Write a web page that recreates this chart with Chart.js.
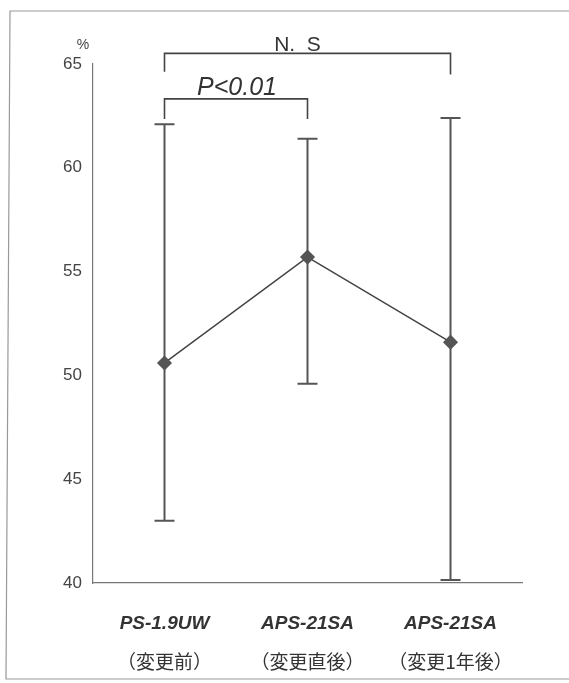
<!DOCTYPE html>
<html>
<head>
<meta charset="utf-8">
<script src="https://cdn.jsdelivr.net/npm/chart.js@4"></script>
<style>
  html, body { margin: 0; padding: 0; background: #fff; }
  #wrap { width: 569px; height: 683px; position: relative; }
</style>
</head>
<body>
<div id="wrap"><canvas id="chart"></canvas></div>
<script>
const models = ['PS-1.9UW', 'APS-21SA', 'APS-21SA'];
const periods = ['（変更前）', '（変更直後）', '（変更1年後）'];
const means = [50.6, 55.7, 51.6];
const upper = [62.1, 61.4, 62.4];
const lower = [43.0, 49.6, 40.15];
const yTicks = [40, 45, 50, 55, 60, 65];

// significance brackets: category indexes, bar level, leg ends (values on y scale)
const brackets = [
  { from: 0, to: 1, level: 63.32, ends: [62.35, 62.35], label: 'P<0.01', italic: true },
  { from: 0, to: 2, level: 65.51, ends: [64.63, 64.49], label: 'N.  S', italic: false }
];

const extras = {
  id: 'extras',
  beforeDraw(chart) {
    const ctx = chart.ctx;
    ctx.save();
    ctx.strokeStyle = '#999';
    ctx.lineWidth = 1.2;
    ctx.beginPath();
    ctx.moveTo(569, 11);
    ctx.lineTo(10, 11);
    ctx.lineTo(6, 679);
    ctx.lineTo(569, 679);
    ctx.stroke();
    ctx.restore();
  },
  afterDatasetsDraw(chart) {
    const ctx = chart.ctx;
    const x = chart.scales.x, y = chart.scales.y;
    ctx.save();
    // error bars
    ctx.strokeStyle = '#555';
    ctx.lineWidth = 2;
    means.forEach((m, i) => {
      const px = x.getPixelForValue(i);
      const top = y.getPixelForValue(upper[i]);
      const bot = y.getPixelForValue(lower[i]);
      ctx.beginPath();
      ctx.moveTo(px, top); ctx.lineTo(px, bot);
      ctx.moveTo(px - 10, top); ctx.lineTo(px + 10, top);
      ctx.moveTo(px - 10, bot); ctx.lineTo(px + 10, bot);
      ctx.stroke();
    });
    // brackets
    ctx.lineWidth = 1.6;
    ctx.strokeStyle = '#444';
    ctx.fillStyle = '#333';
    ctx.textAlign = 'center';
    ctx.textBaseline = 'bottom';
    brackets.forEach(b => {
      const x1 = x.getPixelForValue(b.from), x2 = x.getPixelForValue(b.to);
      const ly = y.getPixelForValue(b.level);
      ctx.beginPath();
      ctx.moveTo(x1, y.getPixelForValue(b.ends[0]));
      ctx.lineTo(x1, ly);
      ctx.lineTo(x2, ly);
      ctx.lineTo(x2, y.getPixelForValue(b.ends[1]));
      ctx.stroke();
      if (b.italic) {
        ctx.font = 'italic 25px "Liberation Sans", Arial, sans-serif';
        ctx.fillText(b.label, (x1 + x2) / 2 + 1, ly + 2);
      } else {
        ctx.font = '21px "Liberation Sans", Arial, sans-serif';
        ctx.fillText(b.label, (x1 + x2) / 2 - 10, ly + 2);
      }
    });
    // unit label
    ctx.font = '14px "Liberation Sans", Arial, sans-serif';
    ctx.fillStyle = '#444';
    ctx.textAlign = 'center';
    ctx.textBaseline = 'middle';
    ctx.fillText('%', chart.chartArea.left - 10, y.getPixelForValue(65.9));
    ctx.restore();
  }
};

new Chart(document.getElementById('chart'), {
  type: 'line',
  data: {
    labels: models,
    datasets: [{
      data: means,
      borderColor: '#444',
      borderWidth: 1.5,
      pointStyle: 'rectRot',
      pointRadius: 6.5,
      pointBackgroundColor: '#555',
      pointBorderColor: '#555',
      tension: 0,
      xAxisID: 'x'
    }]
  },
  options: {
    responsive: true,
    maintainAspectRatio: false,
    animation: false,
    layout: { padding: { left: 0, right: 47, top: 64, bottom: 0 } },
    plugins: { legend: { display: false }, tooltip: { enabled: false } },
    scales: {
      x: {
        type: 'category',
        labels: models,
        offset: true,
        grid: { display: false },
        border: { display: true, color: '#777', width: 1.2 },
        ticks: {
          padding: 21,
          color: '#333',
          font: { family: '"Liberation Sans", Arial, sans-serif', size: 19, weight: 'bold', style: 'italic' }
        },
        afterFit: s => { s.height = 55; }
      },
      x2: {
        type: 'category',
        position: 'bottom',
        labels: periods,
        offset: true,
        grid: { display: false },
        border: { display: false },
        ticks: {
          padding: 4,
          color: '#333',
          font: { family: '"Noto Sans CJK JP", sans-serif', size: 19 }
        },
        afterFit: s => { s.height = 45; }
      },
      y: {
        min: 40,
        max: 65,
        grid: { display: false },
        border: { display: true, color: '#777', width: 1.2 },
        afterBuildTicks: s => { s.ticks = yTicks.map(v => ({ value: v })); },
        ticks: {
          padding: 3,
          color: '#444',
          font: { family: '"Liberation Sans", Arial, sans-serif', size: 17 }
        },
        afterFit: s => { s.width = 93; }
      }
    }
  },
  plugins: [extras]
});
</script>
</body>
</html>
